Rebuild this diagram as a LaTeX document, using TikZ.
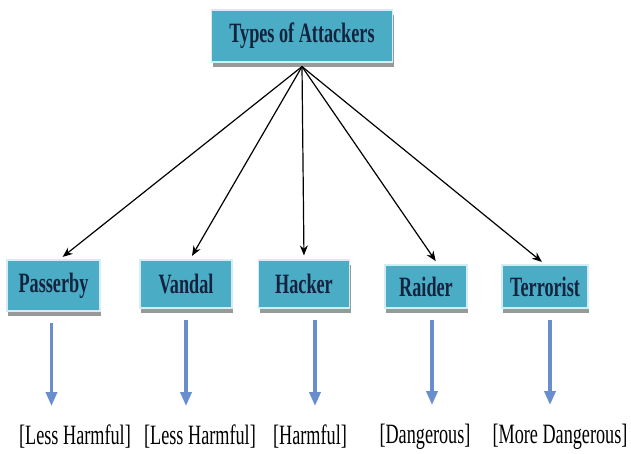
\documentclass[tikz,border=0pt]{standalone}
\usepackage{fontspec}
\setmainfont{Liberation Serif}
\newfontfamily\condfont[FakeStretch=0.65]{Liberation Serif}
\usetikzlibrary{shadows,arrows.meta}
\definecolor{boxblue}{RGB}{75,172,198}
\definecolor{boxedge}{RGB}{214,236,244}
\definecolor{boxtext}{RGB}{20,36,62}
\definecolor{downblue}{RGB}{104,142,206}
\tikzset{
  kind/.style={draw=boxedge, line width=1.2pt, fill=boxblue, text=boxtext,
    font=\condfont\bfseries\fontsize{28}{28}\selectfont, inner sep=0pt,
    drop shadow={shadow xshift=1pt, shadow yshift=-5pt, fill=gray!80, opacity=1}},
  harm/.style={font=\condfont\fontsize{28}{28}\selectfont, inner sep=0pt},
  link/.style={-{Stealth[length=10pt,width=8pt]}, line width=1.2pt, shorten >=4pt},
  down/.style={-{Triangle[length=14pt,width=11pt]}, line width=3.4pt, draw=downblue,
    shorten <=11pt, shorten >=19pt}
}
\begin{document}
\begin{tikzpicture}[x=1pt,y=1pt]
  \useasboundingbox (0,0) rectangle (631,454);
  % root
  \node[kind, minimum width=181pt, minimum height=52pt] (types) at (302,418) {Types of Attackers};
  \coordinate (hub) at ([yshift=-4pt]types.south);
  % attackers
  \node[kind, minimum width=93pt, minimum height=51pt] (passerby) at (53.5,168.5) {Passerby};
  \node[kind, minimum width=92pt, minimum height=48pt] (vandal) at (186,170) {Vandal};
  \node[kind, minimum width=91pt, minimum height=48pt] (hacker) at (304,170) {Hacker};
  \node[kind, minimum width=82pt, minimum height=43pt] (raider) at (426,167.5) {Raider};
  \node[kind, minimum width=86pt, minimum height=43pt] (terrorist) at (545,167.5) {Terrorist};
  % harm levels
  \node[harm] (lessa) at (75,17) {[Less Harmful]};
  \node[harm] (lessb) at (200,17) {[Less Harmful]};
  \node[harm] (harmful) at (310,17) {[Harmful]};
  \node[harm] (danger) at (425,17) {[Dangerous]};
  \node[harm] (moredanger) at (560,17) {[More Dangerous]};
  % arrows
  \draw[link] (hub) -- ([xshift=6pt]passerby.north);
  \draw[link] (hub) -- ([xshift=4pt]vandal.north);
  \draw[link] (hub) -- (hacker.north);
  \draw[link] (hub) -- ([xshift=12pt]raider.north);
  \draw[link] (hub) -- (terrorist.north);
  \draw[down] ([xshift=-2pt]passerby.south) -- ([xshift=-2pt]passerby.south |- lessa.north);
  \draw[down] (vandal.south) -- (vandal.south |- lessb.north);
  \draw[down] ([xshift=11pt]hacker.south) -- ([xshift=11pt]hacker.south |- harmful.north);
  \draw[down] ([xshift=6pt]raider.south) -- ([xshift=6pt]raider.south |- danger.north);
  \draw[down] ([xshift=5pt]terrorist.south) -- ([xshift=5pt]terrorist.south |- moredanger.north);
\end{tikzpicture}
\end{document}
